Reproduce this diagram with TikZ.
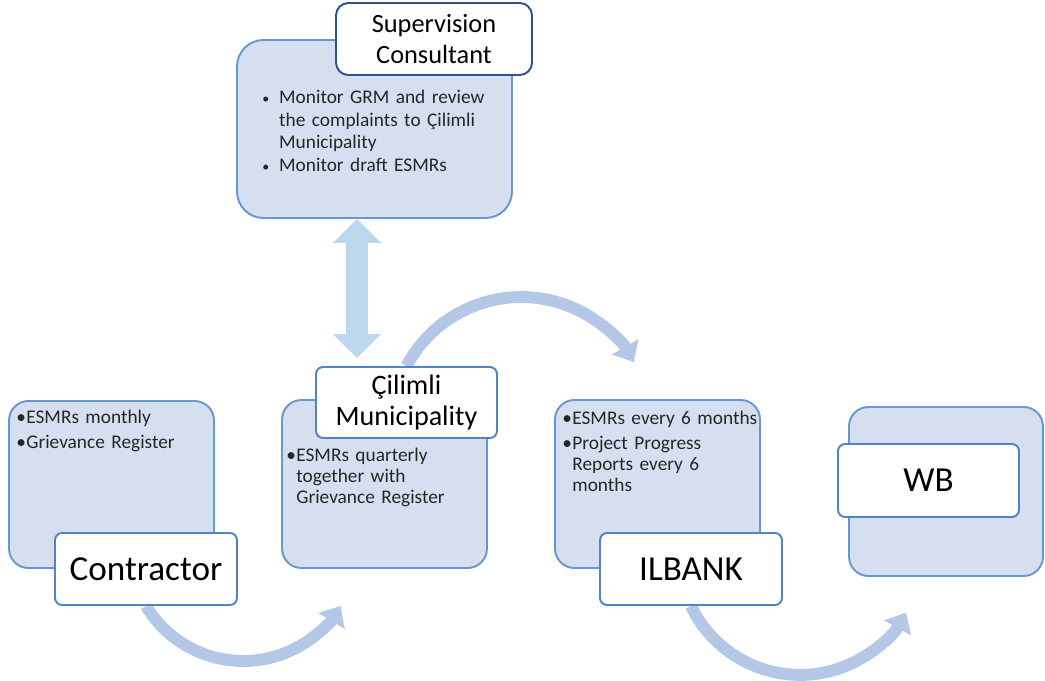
\documentclass[tikz,border=0pt]{standalone}
\usepackage{fontspec}
\setmainfont{Carlito}
\usetikzlibrary{arrows.meta,positioning}

\definecolor{boxfill}{RGB}{214,223,239}
\definecolor{boxline}{RGB}{104,152,210}
\definecolor{lblline}{RGB}{82,132,196}
\definecolor{suplline}{RGB}{47,82,143}
\definecolor{flowcol}{RGB}{180,199,231}
\definecolor{dblcol}{RGB}{189,215,238}
\definecolor{txtgray}{RGB}{38,38,38}

\pgfdeclarelayer{back}
\pgfsetlayers{back,main}

% bullet lines: text block indented by \leftskip, bullet hangs out to the left
\newcommand{\blt}[1]{\par\noindent\llap{\makebox[5.7pt][l]{\textbullet}}#1}
\newcommand{\supblt}[1]{\par\noindent\llap{\makebox[9.6pt][l]{\fontsize{8}{8}\selectfont\textbullet}}#1}

\begin{document}
\begin{tikzpicture}[x=0.02cm, y=0.02cm,
  bluebox/.style={draw=boxline, fill=boxfill, line width=1.1pt, rounded corners=11pt},
  lblbox/.style={draw=lblline, fill=white, line width=1.1pt, rounded corners=4pt, minimum height=1.44cm, align=center, inner sep=0pt},
  biglbl/.style={lblbox, font=\fontsize{20}{24}\selectfont},
  midlbl/.style={lblbox, font=\fontsize{16}{18}\selectfont},
  bullets/.style={anchor=north west, inner sep=0pt, text width=5cm, align=left, text=txtgray, font=\fontsize{11}{12}\selectfont},
  flow/.style={draw=flowcol, line width=6.8pt, -{Triangle[width=17pt,length=10pt]}},
  dblflow/.style={draw=dblcol, line width=13pt, {Triangle[width=26.6pt,length=13.6pt]}-{Triangle[width=26.6pt,length=13.6pt]}}
]
\useasboundingbox (0,0) rectangle (1045,680);

% Supervision Consultant
\node[bluebox, rounded corners=15pt, minimum width=5.5cm, minimum height=3.56cm] (supbox) at (374.5,551) {};
\node[bullets, font=\fontsize{11}{13}\selectfont] (suptxt) at (262,600)
  {\leftskip=9.6pt\supblt{Monitor GRM and review\newline the complaints to Çilimli\newline Municipality}\supblt{Monitor draft ESMRs}\par};
\node[lblbox, draw=suplline, rounded corners=7pt, minimum width=3.92cm, font=\fontsize{15}{18}\selectfont] (suplbl) at (434,641) {Supervision\\Consultant};

% Contractor
\node[bluebox, minimum width=4.1cm, minimum height=3.34cm] (conbox) at (111.5,195.5) {};
\node[bullets] (contxt) at (16,281)
  {\leftskip=5.7pt\parskip=2pt\blt{ESMRs monthly}\blt{Grievance Register}\par};
\node[biglbl, minimum width=3.64cm] (conlbl) at (146,111) {Contractor};

% Cilimli Municipality
\node[bluebox, minimum width=4.1cm, minimum height=3.36cm] (munbox) at (384.5,196) {};
\node[bullets] (muntxt) at (286,240)
  {\leftskip=5.7pt\blt{ESMRs quarterly\newline together with\newline Grievance Register}\par};
\node[midlbl, minimum width=3.62cm, minimum height=1.42cm] (munlbl) at (406.5,277.5) {Çilimli\\Municipality};

% ILBANK
\node[bluebox, minimum width=4.1cm, minimum height=3.36cm] (ilbbox) at (657.5,196) {};
\node[bullets] (ilbtxt) at (562,280)
  {\leftskip=5.7pt\parskip=2pt\blt{ESMRs every 6 months}\blt{Project Progress\newline Reports every 6\newline months}\par};
\node[biglbl, minimum width=3.64cm] (ilblbl) at (691,111) {ILBANK};

% WB
\node[bluebox, minimum width=3.88cm, minimum height=3.38cm] (wbbox) at (946,188.5) {};
\node[biglbl, minimum width=3.62cm, minimum height=1.46cm] (wblbl) at (928.5,199.5) {WB};

% flows
\coordinate (dbot) at (357,322);
\begin{pgfonlayer}{back}
\draw[dblflow] (supbox.south -| dbot) -- (dbot);
\draw[flow] (conlbl.south) arc[start angle=211, end angle=329, radius=113.5];
\draw[flow] (munlbl.north) arc[start angle=152, end angle=30, radius=130];
\draw[flow] (ilblbl.south) arc[start angle=205.5, end angle=331, radius=121];
\end{pgfonlayer}

\end{tikzpicture}
\end{document}
